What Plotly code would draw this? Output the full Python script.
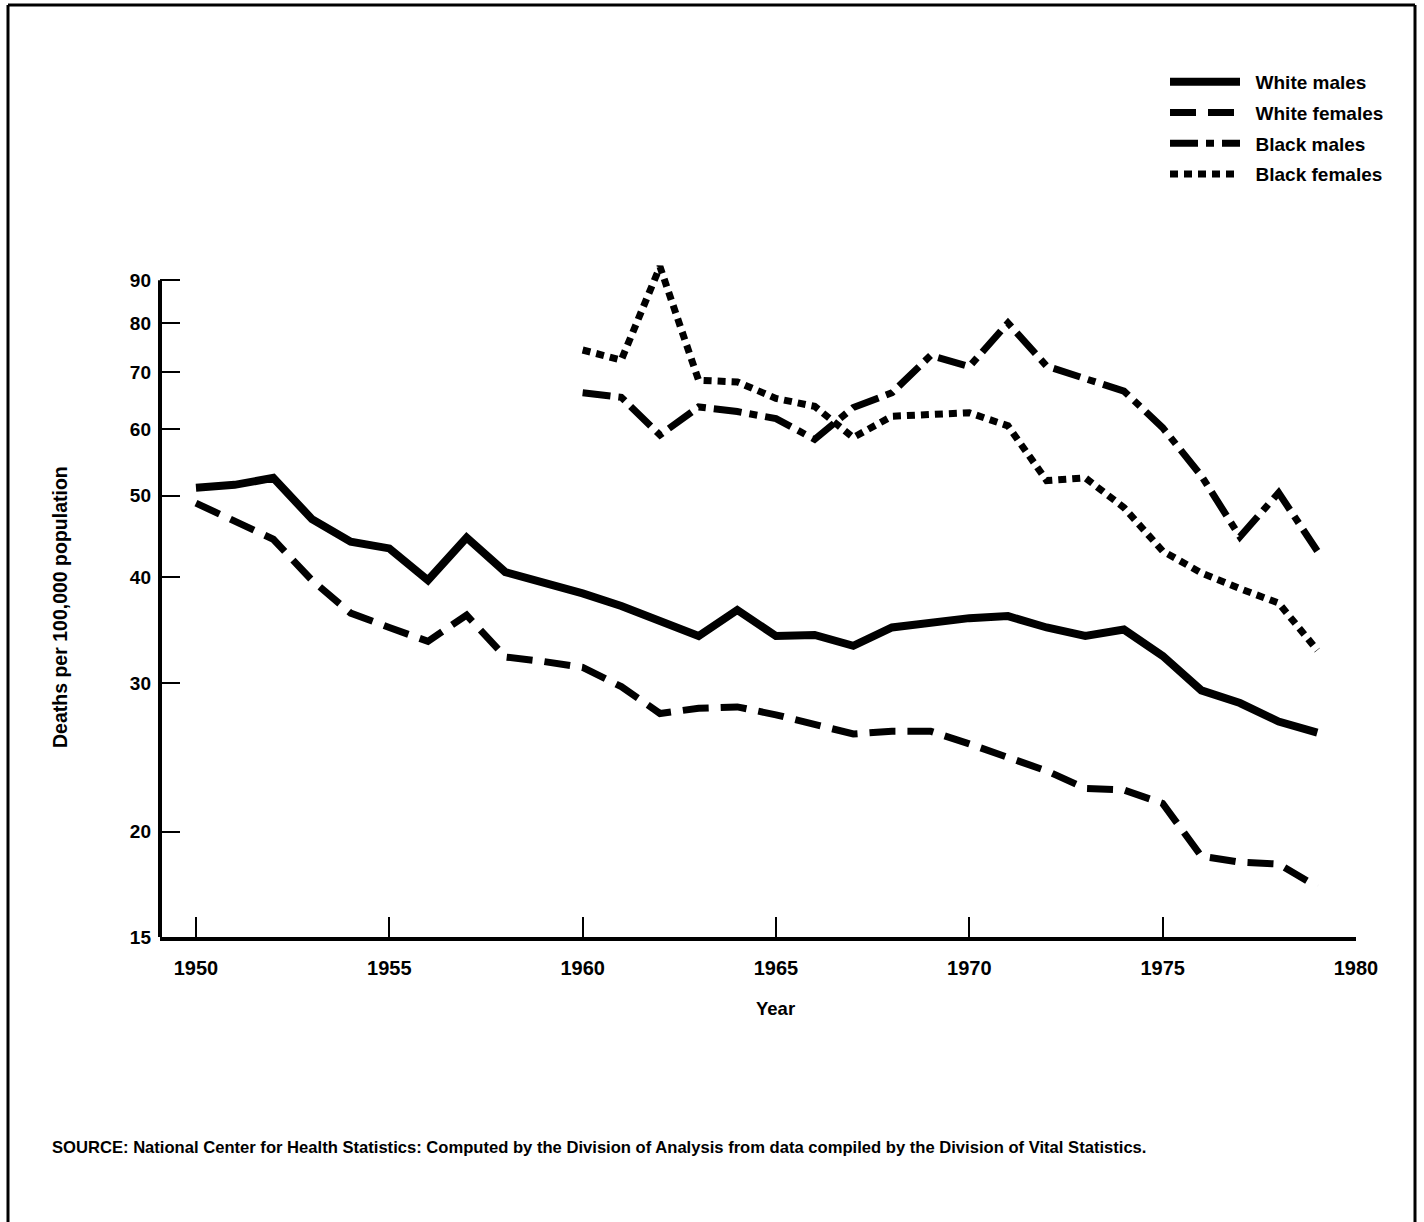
import math
import plotly.graph_objects as go

# ---------------- data ----------------
years_all = list(range(1950, 1980))
years_black = list(range(1960, 1980))

white_males = [51.1, 51.5, 52.5, 46.9, 44.1, 43.3, 39.7, 44.6, 40.6, 39.5,
               38.3, 37.0, 35.6, 34.1, 36.6, 34.1, 34.2, 33.2, 34.9, 35.3,
               35.8, 36.0, 34.9, 34.1, 34.7, 32.3, 29.4, 28.4, 27.0, 26.2]
white_females = [49.0, 46.6, 44.4, 39.7, 36.3, 34.9, 33.6, 36.1, 32.2, 31.8,
                 31.3, 29.7, 27.6, 28.0, 28.1, 27.5, 26.8, 26.1, 26.3, 26.3,
                 25.4, 24.5, 23.6, 22.5, 22.4, 21.6, 18.7, 18.4, 18.3, 17.2]
black_males = [66.2, 65.4, 59.0, 63.7, 62.9, 61.7, 58.3, 63.6, 66.2, 73.3,
               71.1, 80.1, 71.2, 68.9, 66.5, 60.2, 52.8, 44.7, 50.4, 43.0]
black_females = [74.4, 72.4, 93.4, 68.5, 68.2, 65.2, 63.8, 58.6, 62.1, 62.4,
                 62.7, 60.5, 52.1, 52.5, 48.4, 43.0, 40.5, 38.8, 37.3, 32.8]

series_names = ["White males", "White females", "Black males", "Black females"]
y_ticks = [15, 20, 30, 40, 50, 60, 70, 80, 90]
x_ticks = [1950, 1955, 1960, 1965, 1970, 1975, 1980]

# ---------------- layout geometry (pixels) ----------------
W, H = 1424, 1222
PL, PR = 160, 1356          # plot area left/right
PT, PB = 242, 937           # plot area top/bottom
X_MIN, X_MAX = 1949.07, 1980.0
Y_LO = math.log10(15)
Y_HI = Y_LO + (PB - PT) / 844.0


def px_x(p):
    return (p - PL) / (PR - PL)


def px_y(p):
    return (PB - p) / (PB - PT)


def data_y_paper(v):
    return (math.log10(v) - Y_LO) / (Y_HI - Y_LO)


FONT = "Liberation Sans, Arial, Helvetica, sans-serif"
NB = "\u00a0\u00a0"

fig = go.Figure()

styles = [
    dict(width=8, dash="solid"),
    dict(width=7, dash="26px,12px"),
    dict(width=7, dash="28px,8px,8px,8px"),
    dict(width=7, dash="8px,6px"),
]
xs = [years_all, years_all, years_black, years_black]
ys = [white_males, white_females, black_males, black_females]

for name, x, y, st in zip(series_names, xs, ys, styles):
    fig.add_trace(go.Scatter(
        x=x, y=y, mode="lines", name=NB + name, legendgroup=name,
        line=dict(color="black", width=st["width"], dash=st["dash"]),
        hoverinfo="skip",
    ))

shapes = [
    # y axis line from 15 to 90
    dict(type="line", xref="paper", yref="paper",
         x0=0, x1=0, y0=data_y_paper(15), y1=data_y_paper(90),
         line=dict(color="black", width=4)),
    # page border (left, top, right)
    dict(type="line", xref="paper", yref="paper",
         x0=px_x(8), x1=px_x(8), y0=px_y(5), y1=px_y(H),
         line=dict(color="black", width=3)),
    dict(type="line", xref="paper", yref="paper",
         x0=px_x(8), x1=px_x(1415), y0=px_y(5), y1=px_y(5),
         line=dict(color="black", width=3)),
    dict(type="line", xref="paper", yref="paper",
         x0=px_x(1415), x1=px_x(1415), y0=px_y(5), y1=px_y(H),
         line=dict(color="black", width=3)),
]

annotations = [
    dict(text="<b>Deaths per 100,000 population</b>", textangle=-90,
         xref="paper", yref="paper", x=px_x(60), y=px_y(607),
         xanchor="center", yanchor="middle", showarrow=False,
         font=dict(family=FONT, size=19.5, color="black")),
    dict(text="<b>Year</b>", xref="x", yref="paper", x=1965, y=px_y(1008),
         xanchor="center", yanchor="middle", showarrow=False,
         font=dict(family=FONT, size=18.5, color="black")),
    dict(text="<b>SOURCE: National Center for Health Statistics: Computed by the Division of Analysis "
              "from data compiled by the Division of Vital Statistics.</b>",
         xref="paper", yref="paper", x=px_x(50), y=px_y(1147),
         xanchor="left", yanchor="middle", showarrow=False,
         font=dict(family=FONT, size=16.6, color="black")),
]

fig.update_layout(
    width=W, height=H,
    margin=dict(l=PL, r=W - PR, t=PT, b=H - PB, pad=0),
    paper_bgcolor="white", plot_bgcolor="white",
    font=dict(family=FONT, size=18, color="black"),
    showlegend=True,
    legend=dict(
        x=px_x(1165), y=px_y(63), xanchor="left", yanchor="top",
        itemwidth=70, tracegroupgap=3,
        font=dict(family=FONT, size=19, color="black", weight="bold"),
        bgcolor="rgba(0,0,0,0)",
    ),
    xaxis=dict(
        range=[X_MIN, X_MAX + 0.001], tickvals=x_ticks,
        ticktext=[f"<b>{v}</b>" for v in x_ticks],
        showgrid=False, zeroline=False,
        showline=True, linecolor="black", linewidth=4,
        ticks="inside", ticklen=20, tickwidth=2.2, tickcolor="black",
        ticklabelstandoff=10,
        tickfont=dict(family=FONT, size=20, color="black"),
    ),
    yaxis=dict(
        type="log", range=[Y_LO, Y_HI], tickvals=y_ticks,
        ticktext=[f"<b>{v}</b>" for v in y_ticks],
        showgrid=False, zeroline=False, showline=False,
        ticks="inside", ticklen=20, tickwidth=2.2, tickcolor="black",
        ticklabelstandoff=8,
        tickfont=dict(family=FONT, size=19, color="black"),
    ),
    shapes=shapes,
    annotations=annotations,
)

fig.write_html("out.html", config={"displayModeBar": False},
               post_script="document.body.style.margin='0';")
